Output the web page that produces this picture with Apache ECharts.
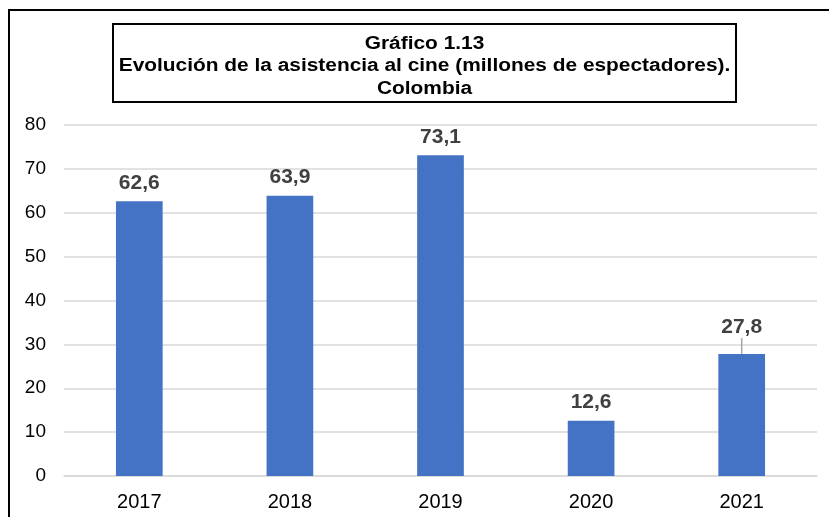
<!DOCTYPE html>
<html>
<head>
<meta charset="utf-8">
<script src="https://cdn.jsdelivr.net/npm/echarts@6/dist/echarts.min.js"></script>
<style>
  html, body { margin: 0; padding: 0; background: #fff; }
  #chart { width: 829px; height: 517px; }
</style>
</head>
<body>
<div id="chart"></div>
<script>
// datos del gráfico
const years = ['2017', '2018', '2019', '2020', '2021']
const asistencia = [62.6, 63.9, 73.1, 12.6, 27.8]
const yTicks = [0, 10, 20, 30, 40, 50, 60, 70, 80]

const titleLines = [
  'Gráfico 1.13',
  'Evolución de la asistencia al cine (millones de espectadores).',
  'Colombia'
]

const chart = echarts.init(document.getElementById('chart'))

const fmt = v => String(v).replace('.', ',')
const font = 'Liberation Sans, Arial, sans-serif'

chart.setOption({
  animation: false,
  backgroundColor: '#fff',
  graphic: [
    // marco exterior
    {
      type: 'rect',
      shape: { x: 9, y: 10, width: 840, height: 540 },
      style: { fill: 'none', stroke: '#000', lineWidth: 2 }
    },
    // caja del título
    {
      type: 'rect',
      shape: { x: 113, y: 24, width: 623, height: 78 },
      style: { fill: 'none', stroke: '#000', lineWidth: 2 }
    },
    // título (el original va un poco ensanchado)
    {
      type: 'text',
      x: 424.5,
      y: 32.5,
      scaleX: 1.16,
      style: {
        text: titleLines.join('\n'),
        fontFamily: font,
        fontSize: 18,
        fontWeight: 'bold',
        fill: '#000',
        align: 'center',
        lineHeight: 22.5
      }
    }
  ],
  grid: {
    left: 64,
    right: 12,
    top: 125,
    bottom: 41,
    containLabel: false
  },
  xAxis: {
    type: 'category',
    data: years,
    axisLine: { show: true, lineStyle: { color: '#d9d9d9', width: 1.5 } },
    axisTick: { show: false },
    axisLabel: {
      color: '#000',
      fontFamily: font,
      fontSize: 20,
      margin: 16
    }
  },
  yAxis: {
    type: 'value',
    min: yTicks[0],
    max: yTicks[yTicks.length - 1],
    interval: 10,
    axisLine: { show: false },
    axisTick: { show: false },
    splitLine: { lineStyle: { color: '#d9d9d9', width: 1.5 } },
    axisLabel: {
      color: '#000',
      fontFamily: font,
      fontSize: 19,
      margin: 18
    }
  },
  series: [
    {
      type: 'bar',
      data: asistencia.map((v, i) => i === 4
        ? { value: v, labelLine: { show: true, lineStyle: { color: '#a6a6a6', width: 1.5 } } }
        : v),
      barWidth: '31%',
      itemStyle: { color: '#4472c4' },
      label: {
        show: true,
        position: 'top',
        distance: 8,
        formatter: p => fmt(p.value),
        color: '#404040',
        fontFamily: font,
        fontSize: 21,
        fontWeight: 'bold'
      },
      labelLayout: p => p.dataIndex === 4 ? { dy: -8 } : {}
    }
  ]
})
</script>
</body>
</html>
